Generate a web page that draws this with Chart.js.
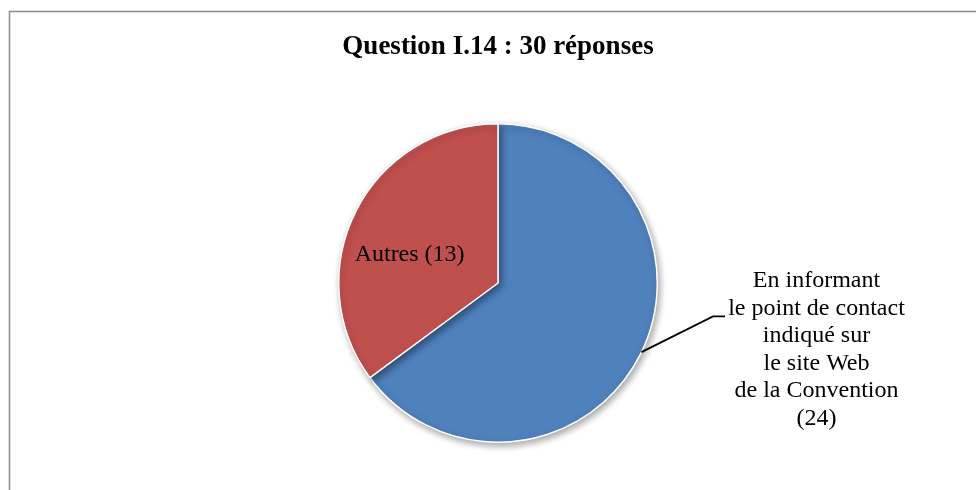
<!DOCTYPE html>
<html>
<head>
<meta charset="utf-8">
<script src="https://cdn.jsdelivr.net/npm/chart.js@4"></script>
<style>
  html, body { margin: 0; padding: 0; background: #fff; }
  #wrap { position: relative; width: 976px; height: 490px; }
</style>
</head>
<body>
<div id="wrap"><canvas id="pie"></canvas></div>
<script>
(function() {
    'use strict';

    const categories = ['En informant le point de contact indiqué sur le site Web de la Convention', 'Autres'];
    const values = [24, 13];
    const colors = ['#4F81BD', '#C0504D'];
    const labelLines = [
        ['En informant', 'le point de contact', 'indiqué sur', 'le site Web', 'de la Convention', '(24)'],
        ['Autres (13)']
    ];
    const titleText = 'Question I.14 : 30 réponses';

    const serif = '"Liberation Serif", "Times New Roman", serif';

    // cadre gris autour du graphique
    const framePlugin = {
        id: 'frame',
        beforeDraw(chart) {
            const ctx = chart.ctx;
            ctx.save();
            ctx.strokeStyle = '#8c8c8c';
            ctx.lineWidth = 1.5;
            ctx.strokeRect(9.5, 11.5, chart.width + 20, chart.height + 20);
            ctx.restore();
        }
    };

    // ombre douce sous le camembert
    const shadowPlugin = {
        id: 'pieShadow',
        beforeDatasetsDraw(chart) {
            const ctx = chart.ctx;
            ctx.save();
            ctx.shadowColor = 'rgba(0, 0, 0, 0.35)';
            ctx.shadowBlur = 7;
            ctx.shadowOffsetX = 2;
            ctx.shadowOffsetY = 3;
        },
        afterDatasetsDraw(chart) {
            chart.ctx.restore();
        }
    };

    // étiquettes : une à l'intérieur (Autres), une à l'extérieur avec trait de rappel
    const labelPlugin = {
        id: 'sliceLabels',
        afterDatasetsDraw(chart) {
            const ctx = chart.ctx;
            const arcs = chart.getDatasetMeta(0).data;
            const cx = arcs[0].x;
            const cy = arcs[0].y;
            const r = arcs[0].outerRadius;

            ctx.save();
            ctx.fillStyle = '#000';
            ctx.font = '24px ' + serif;
            ctx.textAlign = 'center';
            ctx.textBaseline = 'middle';

            // Autres (13) dans la part rouge
            ctx.fillText(labelLines[1][0], cx - r * 0.555, cy - r * 0.18);

            // trait de rappel depuis le bord de la part bleue
            const a = Math.PI * 0.143;
            const x0 = cx + Math.cos(a) * r;
            const y0 = cy + Math.sin(a) * r;
            const x1 = cx + r * 1.35;
            const y1 = cy + r * 0.21;
            ctx.strokeStyle = '#000';
            ctx.lineWidth = 1.8;
            ctx.beginPath();
            ctx.moveTo(x0, y0);
            ctx.lineTo(x1, y1);
            ctx.lineTo(x1 + 12, y1);
            ctx.stroke();

            const lx = cx + r * 2.0;
            const top = cy - r * 0.015;
            labelLines[0].forEach(function(line, i) {
                ctx.fillText(line, lx, top + i * 27.6);
            });
            ctx.restore();
        }
    };

    new Chart(document.getElementById('pie'), {
        type: 'pie',
        data: {
            labels: categories,
            datasets: [{
                data: values,
                backgroundColor: colors,
                borderColor: '#ffffff',
                borderWidth: 1.5
            }]
        },
        options: {
            responsive: true,
            maintainAspectRatio: false,
            animation: false,
            layout: {
                padding: { left: 100, right: 80, top: 0, bottom: 47 }
            },
            plugins: {
                legend: { display: false },
                tooltip: { enabled: false },
                title: {
                    display: true,
                    text: titleText,
                    color: '#000',
                    font: { family: serif, size: 27, weight: 'bold' },
                    padding: { top: 31, bottom: 59.6 }
                }
            }
        },
        plugins: [framePlugin, shadowPlugin, labelPlugin]
    });
})();
</script>
</body>
</html>
